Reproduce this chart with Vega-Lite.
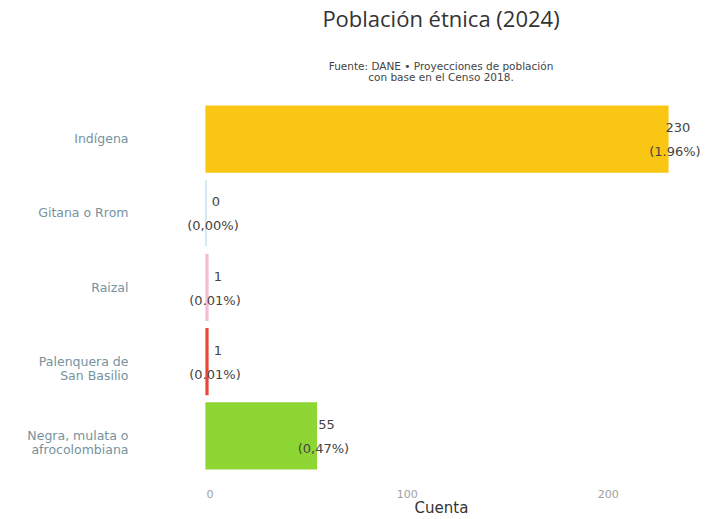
{
  "$schema": "https://vega.github.io/schema/vega-lite/v6.json",
  "width": 470,
  "height": 371,
  "autosize": "none",
  "padding": {"left": 206, "top": 102, "right": 34, "bottom": 46},
  "background": "white",
  "title": {
    "text": "Población étnica (2024)",
    "subtitle": ["Fuente: DANE • Proyecciones de población", "con base en el Censo 2018."],
    "anchor": "middle",
    "font": "Open Sans",
    "fontSize": 22,
    "fontWeight": "normal",
    "color": "#333333",
    "subtitleFont": "DejaVu Sans",
    "subtitleFontSize": 10.5,
    "subtitleColor": "#444444",
    "subtitlePadding": 30,
    "subtitleLineHeight": 11,
    "offset": 18
  },
  "data": {
    "values": [
      {"grupo": "Indígena", "cuenta": 230, "pct": "(1.96%)"},
      {"grupo": "Gitana o Rrom", "cuenta": 0, "pct": "(0,00%)"},
      {"grupo": "Raizal", "cuenta": 1, "pct": "(0.01%)"},
      {"grupo": "Palenquera de San Basilio", "cuenta": 1, "pct": "(0.01%)"},
      {"grupo": "Negra, mulata o afrocolombiana", "cuenta": 55, "pct": "(0,47%)"}
    ]
  },
  "encoding": {
    "y": {
      "field": "grupo",
      "type": "nominal",
      "sort": null,
      "scale": {"paddingInner": 0.11, "paddingOuter": 0.055},
      "axis": {
        "title": null,
        "domain": false,
        "ticks": false,
        "labelPadding": 78,
        "labelFont": "DejaVu Sans",
        "labelFontSize": 12.5,
        "labelColor": "#7592a0",
        "labelLineHeight": 14,
        "labelExpr": "datum.label == 'Palenquera de San Basilio' ? ['Palenquera de', 'San Basilio'] : datum.label == 'Negra, mulata o afrocolombiana' ? ['Negra, mulata o', 'afrocolombiana'] : datum.label"
      }
    },
    "x": {
      "field": "cuenta",
      "type": "quantitative",
      "scale": {"domain": [0, 234], "nice": false},
      "axis": {
        "title": "Cuenta",
        "titleFont": "DejaVu Sans",
        "titleFontSize": 15,
        "titleFontWeight": "normal",
        "titleColor": "#333333",
        "titlePadding": 1,
        "values": [0, 100, 200],
        "grid": false,
        "domain": false,
        "ticks": false,
        "labelPadding": 15,
        "labelFont": "DejaVu Sans",
        "labelFontSize": 11,
        "labelColor": "#a0a0a0"
      }
    }
  },
  "layer": [
    {
      "mark": {"type": "bar", "strokeWidth": 1.2},
      "encoding": {
        "color": {
          "field": "grupo",
          "type": "nominal",
          "legend": null,
          "scale": {
            "domain": ["Indígena", "Gitana o Rrom", "Raizal", "Palenquera de San Basilio", "Negra, mulata o afrocolombiana"],
            "range": ["#f9c613", "#b5dde8", "#f3bcd4", "#e8463c", "#8ed633"]
          }
        },
        "stroke": {
          "field": "grupo",
          "type": "nominal",
          "legend": null,
          "scale": {
            "domain": ["Indígena", "Gitana o Rrom", "Raizal", "Palenquera de San Basilio", "Negra, mulata o afrocolombiana"],
            "range": ["#f9c613", "#b5dde8", "#f3bcd4", "#e8463c", "#8ed633"]
          }
        }
      }
    },
    {
      "mark": {"type": "text", "dy": -11, "dx": 10, "align": "center", "font": "DejaVu Sans", "fontSize": 13, "color": "#444444"},
      "encoding": {"text": {"field": "cuenta", "type": "quantitative"}}
    },
    {
      "mark": {"type": "text", "dy": 13, "dx": 7, "align": "center", "font": "DejaVu Sans", "fontSize": 13, "color": "#444444"},
      "encoding": {"text": {"field": "pct", "type": "nominal"}}
    }
  ],
  "config": {"view": {"stroke": null}}
}
